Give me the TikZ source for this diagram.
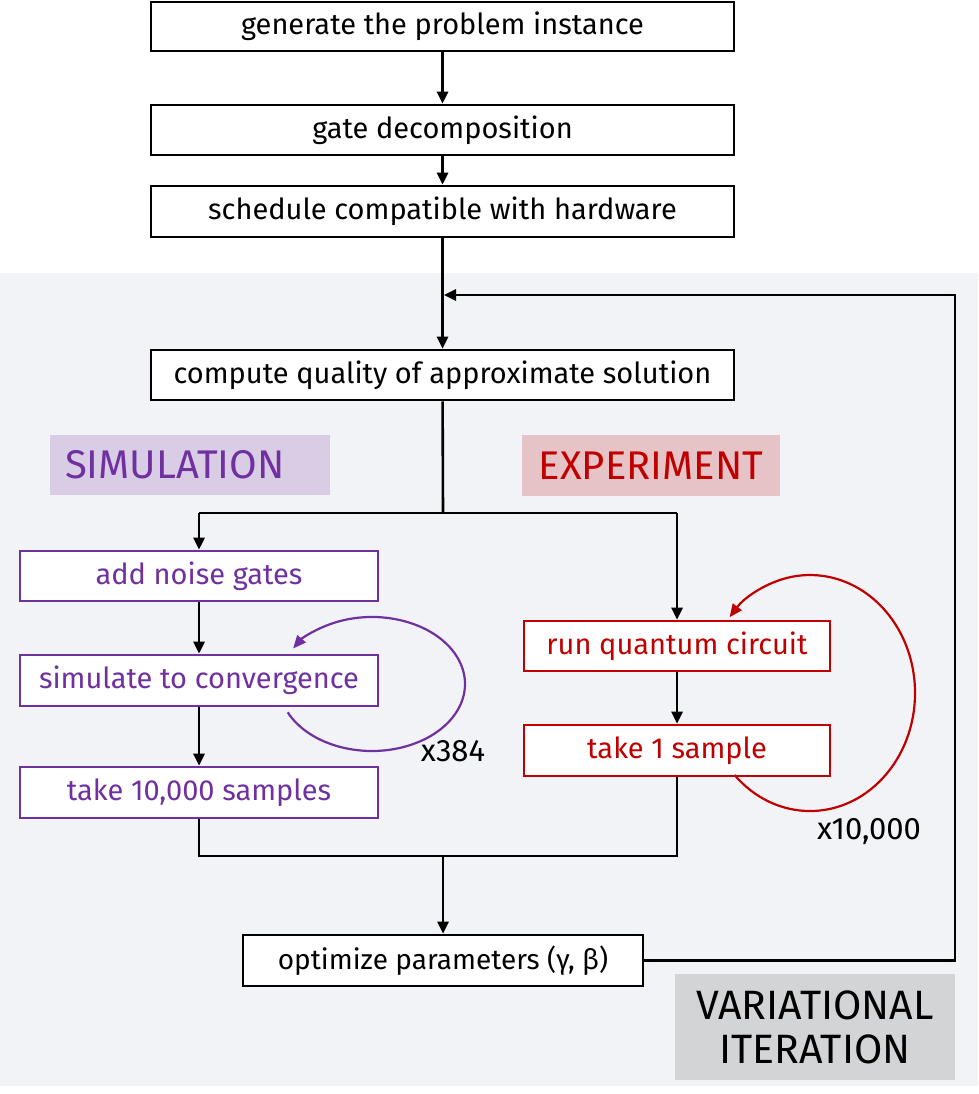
\documentclass[tikz,border=0pt]{standalone}
\usepackage{fontspec}
\setmainfont{Fira Sans}
\usetikzlibrary{arrows.meta}

\definecolor{simcol}{HTML}{7030A0}
\definecolor{expcol}{HTML}{C00000}
\definecolor{simfill}{HTML}{D9CCE5}
\definecolor{expfill}{HTML}{E6C3C7}
\definecolor{varfill}{HTML}{D3D4D6}
\definecolor{bgcol}{HTML}{F2F3F7}

\begin{document}
\begin{tikzpicture}[x=1pt, y=-1pt,
        box/.style ={draw, fill=white, line width=2.6pt, inner sep=0pt,
                     minimum height=50pt, font=\fontsize{29}{32}\selectfont},
        sbox/.style={box, draw=simcol, text=simcol, minimum width=358pt},
        ebox/.style={box, draw=expcol, text=expcol, minimum width=306pt},
        arr/.style ={-{Triangle[length=12pt,width=11pt]}, line width=2.6pt},
        ln/.style  ={line width=2.6pt},
        loop/.style={-{Triangle[length=13pt,width=11pt]}, line width=2.2pt},
        tag/.style ={inner sep=0pt, font=\fontsize{40}{44}\selectfont},
        cnt/.style ={inner sep=0pt, font=\fontsize{31}{34}\selectfont},]

    \useasboundingbox (0,0) rectangle (978,1094);
    \fill[bgcol] (0,273) rectangle (978,1086);

    \node[box, minimum width=583pt, minimum height=49pt] (gen) at (442.5, 26.5)
        {generate the problem instance};
    \node[box, minimum width=583pt] (dec) at (442.5, 130)
        {gate decomposition};
    \node[box, minimum width=583pt, minimum height=51pt] (sch) at (442.5, 211.5)
        {schedule compatible with hardware};
    \node[box, minimum width=583pt] (cmp) at (442.5, 375)
        {compute quality of approximate solution};

    \node[tag, fill=simfill, text=simcol, minimum height=60pt,
          text width=250pt, align=left, inner xsep=15pt] (sim) at (190, 465)
        {SIMULATION};
    \node[tag, fill=expfill, text=expcol, minimum height=61pt,
          minimum width=258pt] (exp) at (651, 465.5)
        {EXPERIMENT};

    \node[sbox] (noise) at (199, 576)
        {add noise gates};
    \node[sbox, minimum height=51pt] (simc) at (199, 680.5)
        {simulate to convergence};
    \node[sbox, minimum height=51pt] (samp) at (199, 792.5)
        {take 10,000 samples};

    \node[ebox] (runq) at (677, 646)
        {run quantum circuit};
    \node[ebox, minimum height=51pt] (take) at (677, 750.5)
        {take 1 sample};

    \node[box, minimum width=400pt, minimum height=51pt,
          font=\fontsize{28}{32}\selectfont] (opt) at (443, 960.5)
        {optimize parameters (γ, β)};

    \node[tag, fill=varfill, minimum width=280pt, minimum height=106pt,
          align=center, font=\fontsize{41}{44}\selectfont] (var) at (815, 1027)
        {VARIATIONAL\\ITERATION};

    \node[cnt] (n384) at (453, 751) {x384};
    \node[cnt] (n10k) at (869, 832) {x10,000};

    \coordinate (split)  at (443, 513);
    \coordinate (splitL) at (199, 513);
    \coordinate (splitR) at (677, 513);
    \coordinate (mergeL) at (199, 856);
    \coordinate (mergeR) at (677, 856);
    \coordinate (merge)  at (443, 856);
    \coordinate (corner) at (955, 295);
    \coordinate (back)   at (444, 295);
    \coordinate (simlp)  at (287.7, 712.3);
    \coordinate (explp)  at (734.5, 775);

    \draw[arr] (gen) -- (dec);
    \draw[arr] (dec) -- (sch);
    \draw[arr] (sch) -- (cmp);

    \draw[ln] (cmp) -- (split);
    \draw[ln] (splitL) -- (splitR);
    \draw[arr] (splitL) -- (noise);
    \draw[arr] (splitR) -- (runq);

    \draw[arr] (noise) -- (simc);
    \draw[arr] (simc) -- (samp);
    \draw[arr] (runq) -- (take);

    \draw[ln] (samp) -- (mergeL) -- (mergeR) -- (take);
    \draw[arr] (merge) -- (opt);

    \draw[arr] (opt.east) -| (corner) -- (back);

    \draw[loop, simcol] (simlp)
        arc[start angle=155, end angle=-148, x radius=93, y radius=67];
    \draw[loop, expcol] (explp)
        arc[start angle=136, end angle=-140, x radius=105, y radius=118];
\end{tikzpicture}
\end{document}
